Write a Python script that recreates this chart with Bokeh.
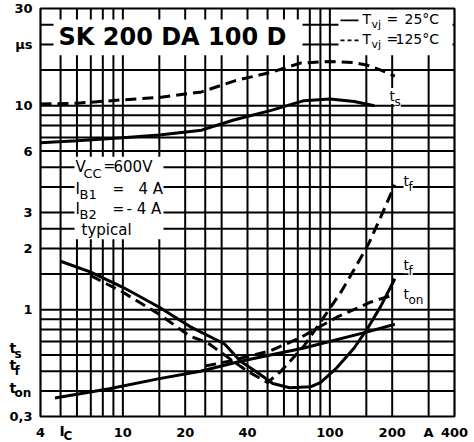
from bokeh.plotting import figure
from bokeh.models import FixedTicker, Range1d, Label
from bokeh.core.properties import value
from bokeh.embed import file_html
from bokeh.resources import INLINE

# ---------------- data ----------------
# storage time t_s
ic_ts25 = [4, 6, 10, 15, 24, 34, 52, 75, 100, 131, 164]
ts25 = [6.6, 6.75, 6.97, 7.2, 7.6, 8.5, 9.5, 10.6, 10.8, 10.5, 10.0]
ic_ts125 = [4, 6, 10, 15, 24, 35, 52, 72, 100, 130, 152, 175, 206]
ts125 = [10.2, 10.3, 10.7, 11.0, 11.7, 13.3, 14.6, 16.2, 16.5, 16.3, 15.8, 15.0, 14.0]
# fall time t_f
ic_tf25 = [5, 7, 10, 15, 21, 31, 37, 45, 53, 64, 81, 90, 108, 131, 152, 176, 206]
tf25 = [1.73, 1.53, 1.29, 1.03, 0.83, 0.68, 0.56, 0.49, 0.435, 0.415, 0.42, 0.44, 0.52, 0.65, 0.81, 1.04, 1.42]
ic_tf125 = [7, 10, 15, 21, 25.6, 31, 40, 50, 58, 75, 90, 113, 134, 155, 176, 206]
tf125 = [1.47, 1.22, 0.95, 0.745, 0.69, 0.6, 0.5, 0.44, 0.5, 0.665, 0.87, 1.22, 1.64, 2.14, 2.85, 4.1]
# turn-on time t_on
ic_ton25 = [4.7, 8.6, 15, 23.7, 37, 75, 152, 206]
ton25 = [0.37, 0.41, 0.46, 0.5, 0.56, 0.65, 0.78, 0.85]
ic_ton125 = [25, 32.5, 51.5, 72, 108, 157, 206]
ton125 = [0.53, 0.56, 0.63, 0.73, 0.92, 1.09, 1.19]

xgrid_vals = [5, 6, 7, 8, 9, 10, 15, 20, 25, 30, 40, 50, 60, 70, 80, 90, 100, 150, 200, 300]
ygrid_vals = [0.4, 0.5, 0.6, 0.7, 0.8, 0.9, 1, 1.5, 2, 2.5, 3, 4, 5, 6, 7, 8, 9, 10, 15, 20, 25]
xtick_vals = [4, 10, 20, 40, 100, 200, 300, 400]
xtick_labels = ["4", "10", "20", "40", "100", "200", "A", "400"]
ytick_vals = [0.3, 1, 2, 3, 6, 10, 20, 30]
ytick_labels = ["0,3", "1", "2", "3", "6", "10", "µs", "30"]

X_MIN, X_MAX = 4, 400
Y_MIN, Y_MAX = 0.3, 30

# ---------------- figure ----------------
p = figure(width=474, height=442, x_axis_type="log", y_axis_type="log",
           x_range=Range1d(X_MIN, X_MAX), y_range=Range1d(Y_MIN, Y_MAX),
           output_backend="svg", toolbar_location=None,
           min_border_left=40, min_border_right=20, min_border_top=8, min_border_bottom=24)
p.outline_line_color = "black"
p.outline_line_width = 2.2
p.background_fill_color = "white"
p.border_fill_color = "white"
p.xgrid.visible = False
p.ygrid.visible = False

p.xaxis.ticker = FixedTicker(ticks=xtick_vals)
p.xaxis.major_label_overrides = dict(zip(xtick_vals, xtick_labels))
p.yaxis.ticker = FixedTicker(ticks=ytick_vals)
p.yaxis.major_label_overrides = dict(zip(ytick_vals, ytick_labels))
for ax in (p.xaxis, p.yaxis):
    ax.axis_line_color = None
    ax.major_tick_line_color = None
    ax.minor_tick_line_color = None
    ax.major_tick_out = 0
    ax.major_tick_in = 0
    ax.minor_tick_out = 0
    ax.minor_tick_in = 0
    ax.major_label_text_font = "DejaVu Sans"
    ax.major_label_text_font_style = "bold"
    ax.major_label_text_font_size = "13px"
    ax.major_label_text_color = "black"
p.xaxis.major_label_standoff = 8
p.yaxis.major_label_standoff = 8


# screen-pixel -> data helpers used only to place texts and the blank areas
def xd(px):
    return 4 * 10 ** ((px - 40) / 207)


def yd(py):
    return 30 * 10 ** (-(py - 8) / 205)


# blank (gridless) areas behind title, legend and condition block: (left, right, bottom, top)
blank_areas = [
    (xd(53), xd(302), yd(55), yd(19)),
    (xd(338), xd(452), yd(55), yd(9)),
    (xd(74), xd(163), yd(240), yd(157)),
]


def cut(lo, hi, holes):
    parts = [(lo, hi)]
    for a, b in holes:
        nxt = []
        for s, e in parts:
            if b <= s or a >= e:
                nxt.append((s, e))
                continue
            if a > s:
                nxt.append((s, a))
            if b < e:
                nxt.append((b, e))
        parts = nxt
    return parts


gx0, gx1, gy0, gy1 = [], [], [], []
for v in xgrid_vals:
    holes = [(b, t) for (l, r, b, t) in blank_areas if l <= v <= r]
    for s, e in cut(Y_MIN, Y_MAX, holes):
        gx0.append(v); gx1.append(v); gy0.append(s); gy1.append(e)
for v in ygrid_vals:
    holes = [(l, r) for (l, r, b, t) in blank_areas if b <= v <= t]
    for s, e in cut(X_MIN, X_MAX, holes):
        gx0.append(s); gx1.append(e); gy0.append(v); gy1.append(v)

p.segment(x0=gx0, x1=gx1, y0=gy0, y1=gy1, line_color="black", line_width=2.0)

LW = 3.0
DASH = "11 6"
p.line(ic_ts25, ts25, line_width=LW, line_color="black")
p.line(ic_ts125, ts125, line_width=LW, line_color="black", line_dash=DASH)
p.line(ic_tf25, tf25, line_width=LW, line_color="black")
p.line(ic_tf125, tf125, line_width=LW, line_color="black", line_dash=DASH)
p.line(ic_ton25, ton25, line_width=LW, line_color="black")
p.line(ic_ton125, ton125, line_width=LW, line_color="black", line_dash=DASH)

# legend samples
p.segment(x0=[xd(340)], y0=[yd(20)], x1=[xd(358)], y1=[yd(20)], line_width=1.8, line_color="black")
p.segment(x0=[xd(340)], y0=[yd(40)], x1=[xd(360)], y1=[yd(40)], line_width=1.8,
          line_color="black", line_dash="4 3")


def lab(px, py, text, size=14, style="normal", bg=None):
    p.add_layout(Label(x=xd(px), y=yd(py), text=text, text_font="DejaVu Sans",
                       text_font_size=f"{size}px", text_font_style=style,
                       text_baseline="middle", text_align="left", text_color="black",
                       background_fill_color=bg))


# texts outside the frame: text glyphs on the overlay level
def slab(px, py, text, size=14, style="bold"):
    p.text(x=[xd(px)], y=[yd(py)], text=[text], text_font=value("DejaVu Sans"),
           text_font_size=f"{size}px", text_font_style=style, text_baseline="middle",
           text_align="left", text_color="black", level="overlay")


# title
lab(58, 37, "SK 200 DA 100 D", size=24, style="bold")

# legend texts
lab(362, 19, "T")
lab(371, 24, "vj", size=11)
lab(386, 19, "=")
lab(404, 19, "25°C")
lab(362, 39, "T")
lab(371, 44, "vj", size=11)
lab(386, 39, "=")
lab(395, 39, "125°C")

# condition block
lab(75, 167, "V", size=15)
lab(83, 174, "CC", size=13)
lab(103, 166, "=", size=14)
lab(113, 167, "600V", size=15)
lab(75, 189, "I", size=15)
lab(79, 195, "B1", size=13)
lab(112, 189, "=", size=14)
lab(138, 189, "4 A", size=15)
lab(75, 209, "I", size=15)
lab(79, 215, "B2", size=13)
lab(112, 209, "=", size=14)
lab(126, 209, "- 4 A", size=15)
lab(81, 231, "typical", size=15)

# curve labels
lab(389, 96, "t", bg="white")
lab(394, 102, "s", size=12, bg="white")
lab(403, 181, "t", bg="white")
lab(408, 187, "f", size=12, bg="white")
lab(403, 266, "t", bg="white")
lab(408, 272, "f", size=12, bg="white")
lab(403, 295, "t", bg="white")
lab(408, 301, "on", size=12, bg="white")

# left side quantity labels
slab(9, 349, "t")
slab(14, 355, "s", size=12)
slab(9, 366, "t")
slab(14, 372, "f", size=12)
slab(9, 389, "t")
slab(14, 394, "on", size=12)

# I_C on the x axis
slab(59, 433, "I")
slab(63, 438, "C", size=12)

open("out.html", "w").write(file_html(p, INLINE))
